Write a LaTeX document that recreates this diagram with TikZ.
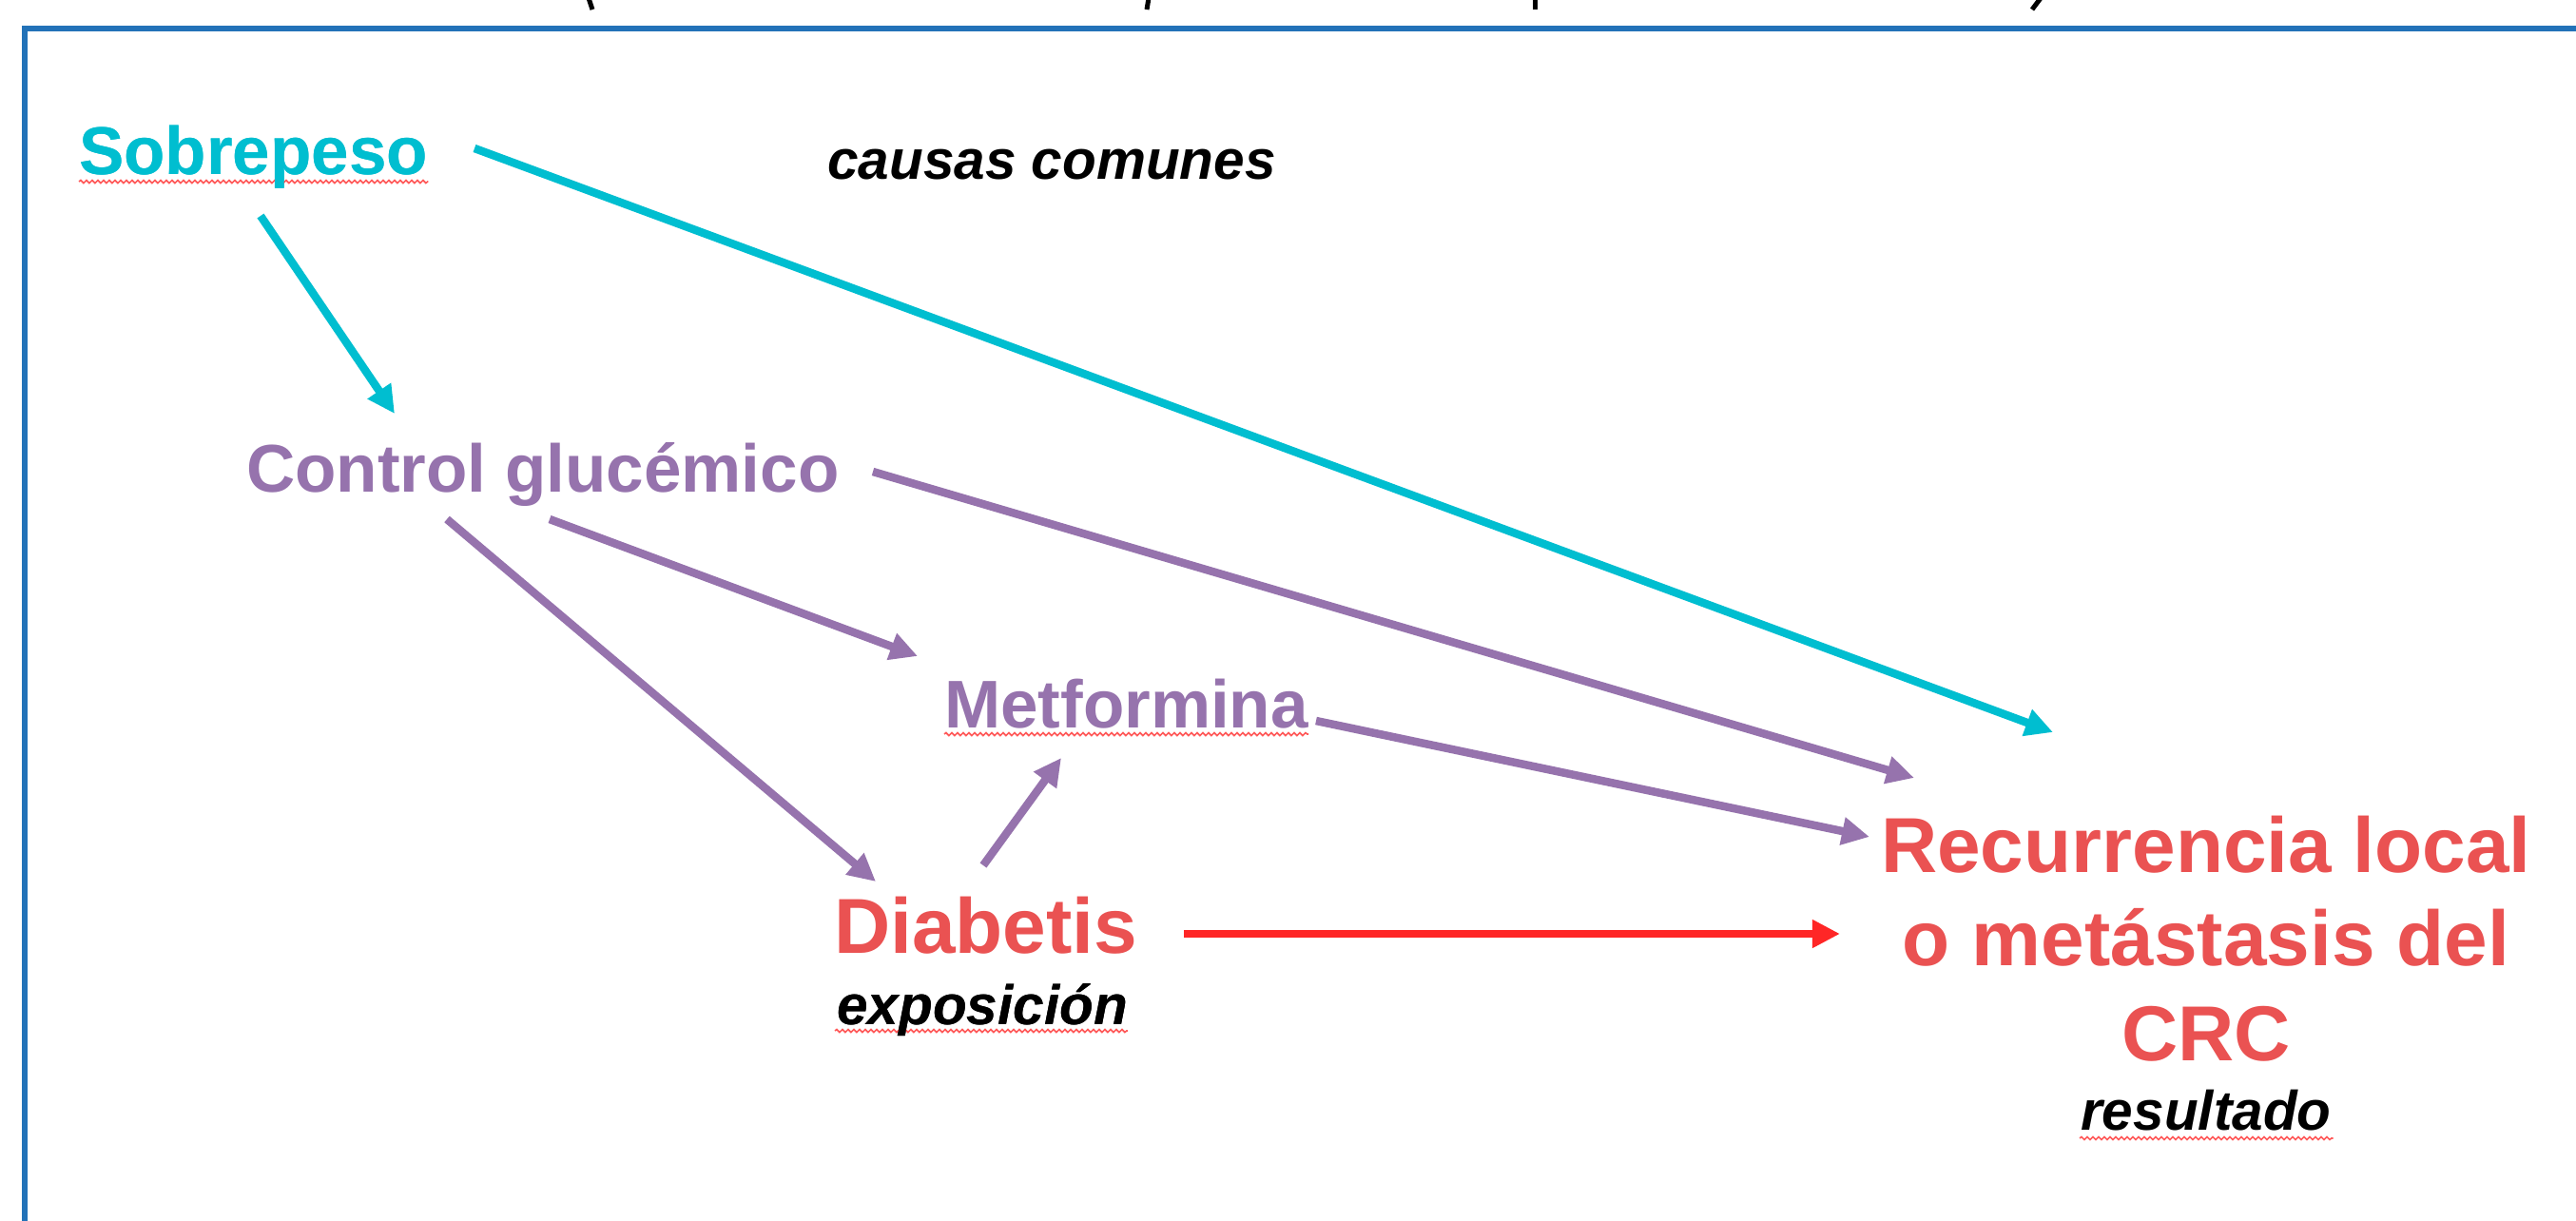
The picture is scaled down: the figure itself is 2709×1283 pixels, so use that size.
\documentclass[tikz,border=0pt]{standalone}
\usepackage{fontspec}
\setmainfont{Liberation Sans}
\usetikzlibrary{arrows.meta,decorations.pathmorphing}
\definecolor{cyanA}{RGB}{0,190,208}
\definecolor{purpA}{RGB}{150,115,173}
\definecolor{redT}{RGB}{234,82,82}
\definecolor{redA}{RGB}{255,38,38}
\definecolor{frameB}{RGB}{34,114,184}
\definecolor{squigC}{RGB}{255,90,90}
\begin{document}
\begin{tikzpicture}[x=1pt,y=-1pt,
  lbl/.style={inner sep=0pt,anchor=base west,font=\bfseries\fontsize{71pt}{82pt}\selectfont},
  biglbl/.style={inner sep=0pt,font=\bfseries\fontsize{82pt}{99pt}\selectfont,text=redT},
  note/.style={inner sep=0pt,anchor=base west,font=\bfseries\itshape\fontsize{58.5pt}{70pt}\selectfont,text=black},
  conn/.style={line width=8.5pt,-{Triangle[length=29pt,width=28pt]}},
  cyconn/.style={conn,cyanA},
  puconn/.style={conn,purpA},
  reconn/.style={conn,redA},
  squig/.style={squigC,line width=1.6pt,decorate,decoration={snake,segment length=6pt,amplitude=1.5pt}},
  frag/.style={line width=5pt,black}
]
\useasboundingbox (0,0) rectangle (2709,1283);
\fill[white] (0,0) rectangle (2709,1283);

% frame
\draw[frameB,line width=6pt] (2712,30) -- (26,30) -- (26,1290);
% title fragments cut at the top edge
\draw[frag] (619,-2) -- (623,10);
\draw[frag] (1208,-2) -- (1206,10);
\draw[frag] (1614,-2) -- (1614,10);
\draw[frag] (2146,-2) -- (2137,10);

% nodes
\node[lbl,text=cyanA] (sob) at (83,183) {Sobrepeso};
\node[note] (causas) at (870,188) {causas comunes};
\node[lbl,text=purpA] (ctrl) at (259,517) {Control glucémico};
\node[lbl,text=purpA] (met) at (993,765) {Metformina};
\node[biglbl,anchor=base west] (dia) at (877,1002) {Diabetis};
\node[note] (expo) at (880,1077) {exposición};
\node[biglbl,anchor=base] (rec1) at (2320,917) {Recurrencia local};
\node[biglbl,anchor=base] (rec2) at (2320,1015) {o metástasis del};
\node[biglbl,anchor=base] (rec3) at (2320,1115) {CRC};
\node[note] (res) at (2188,1188) {resultado};

% spell-check underlines
\draw[squig] ([shift={(0,8)}]sob.base west) -- ([shift={(0,8)}]sob.base east);
\draw[squig] ([shift={(0,7)}]met.base west) -- ([shift={(0,7)}]met.base east);
\draw[squig] ([shift={(-2,7)}]expo.base west) -- ([shift={(0,7)}]expo.base east);
\draw[squig] ([shift={(-1,9)}]res.base west) -- ([shift={(2,9)}]res.base east);
% redraw descenders over the squiggles
\node[lbl,text=cyanA] at (83,183) {Sobrepeso};
\node[note] at (880,1077) {exposición};

% connectors
\draw[cyconn] ([shift={(191,44)}]sob.base west) -- ([shift={(156,-82)}]ctrl.base west);
\draw[cyconn] ([shift={(416,-27)}]sob.base west) -- ([shift={(181,-147)}]rec1.base west);
\draw[puconn] ([shift={(659,-21)}]ctrl.base west) -- ([shift={(35,-99)}]rec1.base west);
\draw[puconn] ([shift={(319,29)}]ctrl.base west) -- ([shift={(-28,-75)}]met.base west);
\draw[puconn] ([shift={(211,29)}]ctrl.base west) -- ([shift={(44,-75)}]dia.base west);
\draw[puconn] ([shift={(157,-92)}]dia.base west) -- ([shift={(123,32)}]met.base west);
\draw[puconn] ([shift={(391,-7)}]met.base west) -- ([shift={(-12,-37)}]rec1.base west);
\draw[reconn] ([shift={(368,-20)}]dia.base west) -- ([shift={(-43,65)}]rec1.base west);
\end{tikzpicture}
\end{document}
